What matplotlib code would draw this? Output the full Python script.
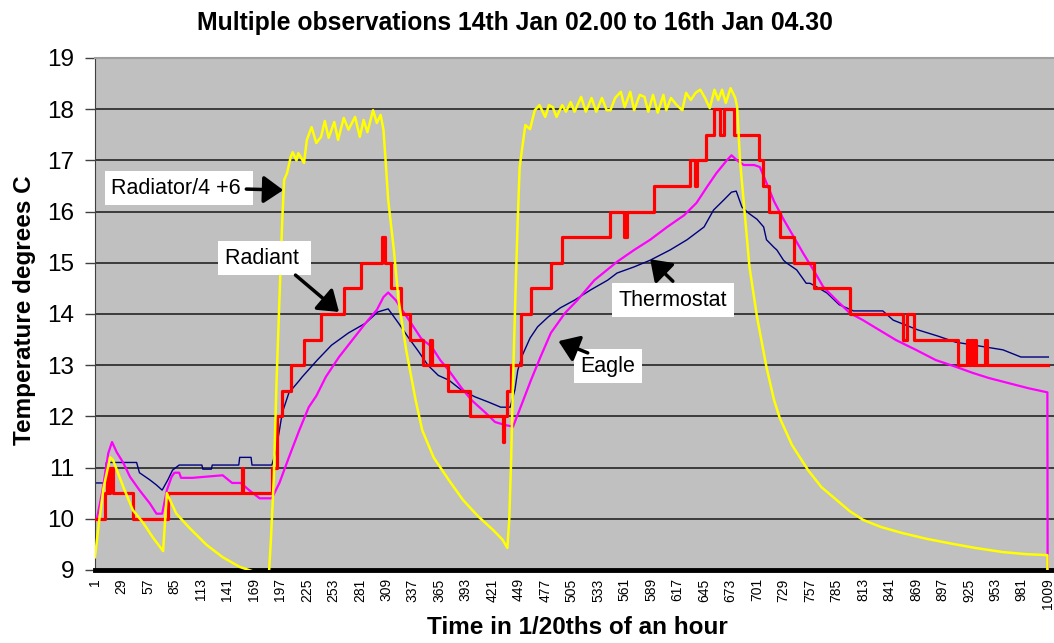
import matplotlib.pyplot as plt

plt.rcParams['font.family'] = ['Liberation Sans', 'DejaVu Sans']

# sample number (1/20ths of an hour) and temperature readings
radiator_t = [1, 5, 10, 17, 20, 31, 41, 52, 62, 73, 77, 87, 101, 119, 136, 154, 167, 176, 185,
              187, 190, 193, 196, 199, 201, 204, 208, 210, 214, 216, 219, 222, 225, 230, 235,
              240, 244, 248, 254, 258, 264, 269, 276, 281, 285, 289, 295, 299, 303, 306, 308,
              311, 317, 322, 330, 340, 347, 359, 375, 390, 406, 422, 432, 437, 439, 441, 443,
              446, 448, 450, 456, 461, 466, 471, 477, 481, 485, 489, 495, 499, 504, 508, 515,
              520, 526, 531, 537, 542, 546, 551, 557, 561, 567, 571, 577, 582, 586, 591, 596,
              602, 605, 610, 616, 622, 626, 631, 636, 641, 646, 651, 656, 660, 664, 668, 673,
              678, 680, 683, 688, 693, 701, 711, 719, 725, 738, 755, 769, 785, 799, 813, 832,
              855, 880, 908, 932, 961, 985, 1008, 1009]
radiator_c = [9.25, 9.9, 10.6, 11.2, 11.15, 10.62, 10.17, 9.92, 9.64, 9.37, 10.5, 10.1, 9.82,
              9.49, 9.25, 9.06, 8.98, 8.88, 8.95,
              9.59, 10.76, 12.71, 14.27, 15.84, 16.62, 16.75, 17.07, 17.16, 17.0, 17.14, 17.05,
              16.95, 17.4, 17.65, 17.34, 17.46, 17.77, 17.44, 17.75, 17.4, 17.83, 17.6, 17.85,
              17.46, 17.79, 17.55, 17.98, 17.73, 17.89, 17.6, 17.07,
              16.23, 15.25, 14.27, 13.3, 12.32, 11.73, 11.2, 10.76, 10.37, 10.05, 9.78, 9.59,
              9.43, 9.98, 11.15, 12.71, 14.66, 15.84, 16.87, 17.69, 17.61, 17.98, 18.08, 17.85,
              18.08, 18.04, 17.85, 18.08, 17.95, 18.14, 17.95, 18.24, 17.95, 18.22, 17.95,
              18.22, 17.98, 17.98, 18.22, 18.34, 18.04, 18.34, 17.98, 18.28, 18.24, 17.95,
              18.28, 17.93, 18.28, 17.98, 18.22, 18.08, 17.98, 18.32, 18.18, 18.32, 18.38,
              18.22, 18.02, 18.38, 18.18, 18.38, 18.12, 18.41, 18.22, 18.04, 17.0, 15.97,
              14.92, 13.94, 12.96, 12.32, 11.97, 11.44, 10.95, 10.62, 10.37, 10.15, 9.98,
              9.84, 9.72, 9.61, 9.51, 9.43, 9.35, 9.31, 9.29, 0]

radiant_t = [1, 12, 14, 16, 17, 20, 41, 78, 156, 157, 188, 193, 199, 208, 222, 240, 264, 282,
             304, 308, 314, 325, 334, 348, 355, 357, 374, 397, 432, 433, 437, 441, 451, 462,
             483, 495, 546, 560, 563, 592, 630, 635, 638, 647, 655, 662, 666, 677, 703, 707,
             714, 725, 740, 761, 799, 855, 860, 867, 913, 923, 925, 927, 929, 931, 933, 942,
             944, 1009]
radiant_c = [10.0, 10.5, 11.0, 10.5, 11.0, 10.5, 10.0, 10.5, 11.0, 10.5, 11.0, 12.0, 12.5,
             13.0, 13.5, 14.0, 14.5, 15.0, 15.5, 15.0, 14.5, 14.0, 13.5, 13.0, 13.5, 13.0,
             12.5, 12.0, 11.5, 12.0, 12.5, 13.0, 14.0, 14.5, 15.0, 15.5, 16.0, 15.5, 16.0,
             16.5, 17.0, 16.5, 17.0, 17.5, 18.0, 17.5, 18.0, 17.5, 17.0, 16.5, 16.0, 15.5,
             15.0, 14.5, 14.0, 13.5, 14.0, 13.5, 13.0, 13.5, 13.0, 13.5, 13.0, 13.5, 13.0,
             13.5, 13.0, 13.0]

thermostat_t = [1, 11, 13, 45, 48, 59, 66, 72, 78, 83, 90, 114, 115, 124, 125, 153, 154, 166,
                167, 188, 192, 196, 199, 206, 217, 220, 236, 251, 269, 287, 300, 311, 322, 332,
                343, 353, 364, 375, 388, 403, 417, 430, 440, 445, 448, 453, 461, 469, 480, 493,
                508, 525, 543, 553, 571, 588, 609, 627, 645, 655, 666, 674, 679, 685, 692, 701,
                708, 711, 719, 722, 729, 732, 743, 753, 757, 764, 775, 788, 803, 834, 845, 871,
                892, 911, 961, 980, 1009]
thermostat_c = [10.7, 10.7, 11.1, 11.1, 10.9, 10.76, 10.66, 10.56, 10.76, 10.95, 11.05, 11.05,
                10.97, 10.97, 11.05, 11.05, 11.2, 11.2, 11.05, 11.05, 11.3, 11.73, 12.07, 12.46,
                12.7, 12.77, 13.1, 13.39, 13.63, 13.82, 14.04, 14.1, 13.82, 13.55, 13.27, 13.0,
                12.8, 12.71, 12.52, 12.38, 12.28, 12.18, 12.18, 12.52, 12.9, 13.2, 13.53, 13.75,
                13.94, 14.12, 14.27, 14.47, 14.66, 14.8, 14.92, 15.05, 15.25, 15.45, 15.7,
                16.03, 16.23, 16.38, 16.4, 16.09, 15.97, 15.85, 15.7, 15.45, 15.3, 15.25, 15.05,
                15.0, 14.86, 14.6, 14.6, 14.53, 14.41, 14.18, 14.06, 14.06, 13.88, 13.69, 13.57,
                13.45, 13.3, 13.16, 13.16]

eagle_t = [1, 3, 9, 15, 19, 24, 31, 38, 48, 59, 66, 72, 77, 82, 85, 90, 92, 104, 136, 146, 155,
           164, 175, 188, 196, 206, 217, 227, 235, 245, 259, 273, 287, 299, 306, 311, 319, 325,
           336, 346, 357, 366, 375, 388, 399, 414, 424, 435, 443, 451, 462, 472, 483, 498, 511,
           529, 553, 571, 588, 606, 624, 637, 648, 658, 669, 674, 680, 687, 698, 704, 711, 719,
           729, 740, 750, 761, 771, 785, 799, 813, 830, 848, 869, 890, 911, 929, 946, 967, 988,
           1008, 1009]
eagle_c = [10.0, 10.0, 10.56, 11.28, 11.5, 11.3, 11.09, 10.82, 10.56, 10.3, 10.1, 10.1, 10.56,
           10.82, 10.9, 10.9, 10.8, 10.8, 10.85, 10.7, 10.7, 10.56, 10.4, 10.4, 10.7, 11.2,
           11.73, 12.18, 12.4, 12.77, 13.16, 13.49, 13.82, 14.08, 14.33, 14.42, 14.27, 14.1,
           13.8, 13.52, 13.36, 13.1, 12.9, 12.57, 12.32, 12.07, 11.89, 11.83, 11.8, 12.18,
           12.71, 13.16, 13.63, 14.02, 14.27, 14.66, 15.02, 15.25, 15.45, 15.7, 15.93, 16.17,
           16.48, 16.75, 17.0, 17.1, 17.0, 16.91, 16.91, 16.87, 16.56, 16.2, 15.85, 15.5,
           15.18, 14.85, 14.53, 14.27, 14.02, 13.88, 13.69, 13.49, 13.3, 13.1, 12.97, 12.85,
           12.75, 12.65, 12.55, 12.47, 0]

x_ticks = [1, 29, 57, 85, 113, 141, 169, 197, 225, 253, 281, 309, 337, 365, 393, 421, 449,
           477, 505, 533, 561, 589, 617, 645, 673, 701, 729, 757, 785, 813, 841, 869, 897,
           925, 953, 981, 1009]

fig = plt.figure(figsize=(10.54, 6.43), dpi=100)
ax = fig.add_axes([95 / 1054, 73 / 643, 959 / 1054, 512 / 643])
ax.set_facecolor('#c0c0c0')

ax.plot(thermostat_t, thermostat_c, color='#000080', lw=1.0, zorder=2)
ax.plot(eagle_t, eagle_c, color='#ff00ff', lw=1.6, zorder=3)
ax.plot(radiant_t, radiant_c, color='#ff0000', lw=2.3, drawstyle='steps-post', zorder=4)
ax.plot(radiator_t, radiator_c, color='#ffff00', lw=1.8, zorder=5)

ax.set_xlim(1, 1015)
ax.set_ylim(9, 19)
ax.set_yticks(range(9, 20))
ax.yaxis.grid(True, color='#303030', lw=1.3)
ax.set_axisbelow(True)
ax.set_xticks(x_ticks)
ax.set_xticklabels([str(v) for v in x_ticks], rotation=90, fontsize=10)
ax.tick_params(axis='x', length=0, pad=6)
ax.tick_params(axis='y', length=7, width=1, pad=8, labelsize=17.5, color='#404040')

ax.spines['bottom'].set_color('black')
ax.spines['bottom'].set_linewidth(3.5)
ax.spines['left'].set_color('#404040')
ax.spines['top'].set_color('#a0a0a0')
ax.spines['top'].set_linewidth(1.5)
ax.spines['right'].set_visible(False)

# labels with arrows
box = dict(boxstyle='square,pad=0.3', fc='white', ec='none')
arrow = dict(arrowstyle='-|>,head_length=0.6,head_width=0.42', lw=2.5, color='black',
             shrinkA=0, shrinkB=0, mutation_scale=20)
ax.text(18, 16.46, 'Radiator/4 +6 ', fontsize=15.5, ha='left', va='center', bbox=box, zorder=6)
ax.annotate('', xy=(200, 16.42), xytext=(161, 16.44), arrowprops=arrow, zorder=7)
ax.text(138, 15.09, 'Radiant ', fontsize=15.5, ha='left', va='center', bbox=box, zorder=6)
ax.annotate('', xy=(259, 14.04), xytext=(213, 14.76), arrowprops=arrow, zorder=7)
ax.text(555, 14.27, 'Thermostat', fontsize=15.5, ha='left', va='center', bbox=box, zorder=6)
ax.annotate('', xy=(588, 15.07), xytext=(612, 14.64), arrowprops=arrow, zorder=7)
ax.text(514, 12.98, 'Eagle', fontsize=15.5, ha='left', va='center', bbox=box, zorder=6)
ax.annotate('', xy=(491, 13.47), xytext=(522, 13.24), arrowprops=arrow, zorder=7)

fig.text(515 / 1054, 1 - 23 / 643, 'Multiple observations 14th Jan 02.00 to 16th Jan 04.30',
         ha='center', va='center', fontsize=17.8, fontweight='bold')
fig.text(577 / 1054, 1 - 628 / 643, 'Time in 1/20ths of an hour',
         ha='center', va='center', fontsize=17.5, fontweight='bold')
fig.text(25 / 1054, 1 - 310 / 643, 'Temperature degrees C', rotation=90,
         ha='center', va='center', fontsize=17.5, fontweight='bold')

fig.savefig('out.png', dpi=100, facecolor='white')
